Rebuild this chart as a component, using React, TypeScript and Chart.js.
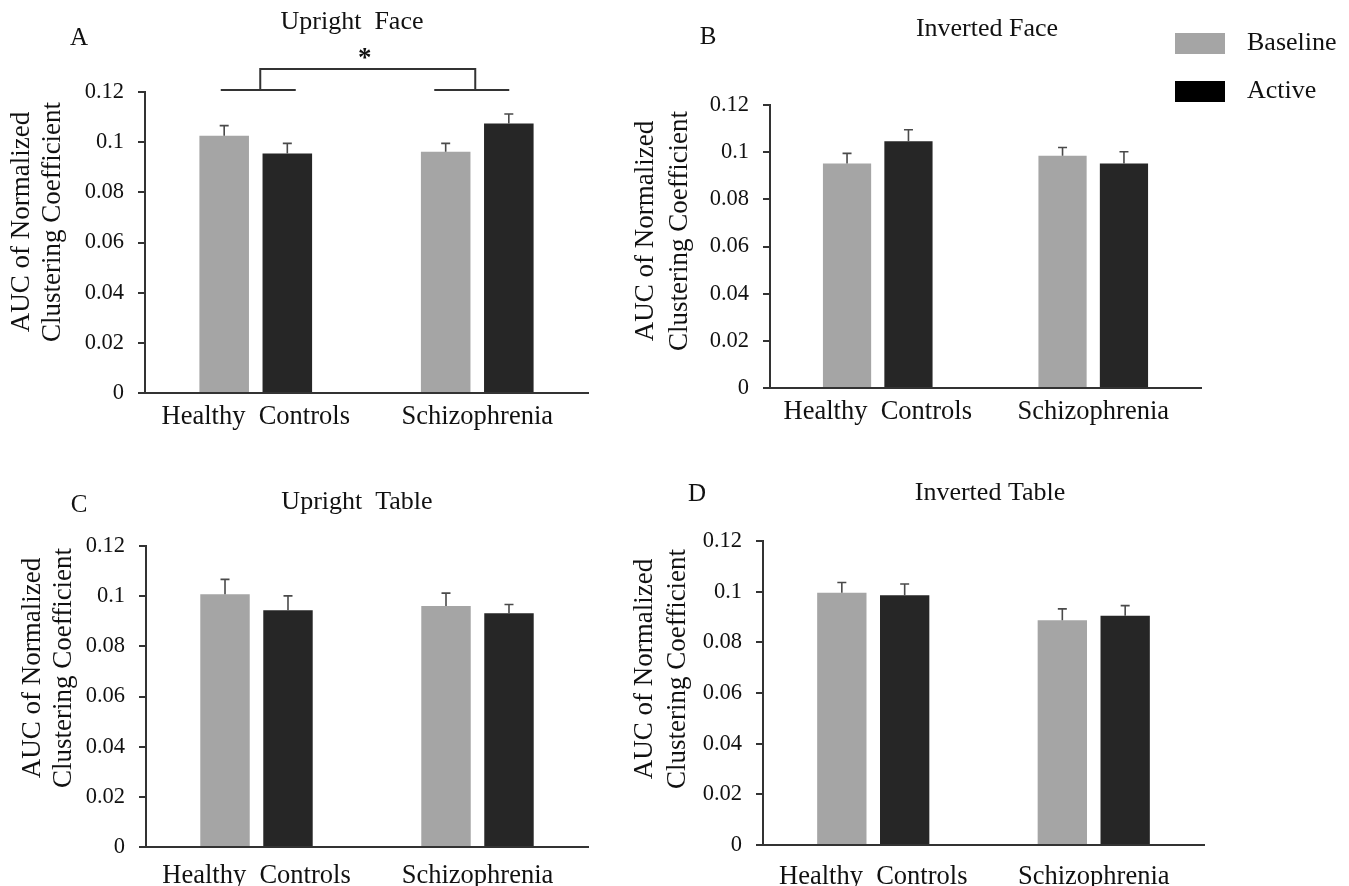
import React, { useEffect, useRef } from 'react';
import { Chart, registerables } from 'chart.js';

Chart.register(...registerables);

// ---------- data ----------
const categories = ['Healthy  Controls', 'Schizophrenia'];
const seriesNames = ['Baseline', 'Active'];
const yTickLabels = ['0', '0.02', '0.04', '0.06', '0.08', '0.1', '0.12'];
const yAxisTitle = ['AUC of Normalized', 'Clustering Coefficient'];
const panelTitles = ['Upright  Face', 'Inverted Face', 'Upright  Table', 'Inverted Table'];
const panelLetters = ['A', 'B', 'C', 'D'];

const uprightFaceBaseline = [0.1026, 0.0962];
const uprightFaceBaselineErr = [0.004, 0.0033];
const uprightFaceActive = [0.0955, 0.1074];
const uprightFaceActiveErr = [0.004, 0.0038];

const invertedFaceBaseline = [0.0952, 0.0985];
const invertedFaceBaselineErr = [0.0043, 0.0035];
const invertedFaceActive = [0.1046, 0.0952];
const invertedFaceActiveErr = [0.0049, 0.005];

const uprightTableBaseline = [0.1008, 0.0961];
const uprightTableBaselineErr = [0.0059, 0.0051];
const uprightTableActive = [0.0944, 0.0932];
const uprightTableActiveErr = [0.0057, 0.0035];

const invertedTableBaseline = [0.0996, 0.0887];
const invertedTableBaselineErr = [0.004, 0.0045];
const invertedTableActive = [0.0986, 0.0905];
const invertedTableActiveErr = [0.0044, 0.004];

// significance bracket (Upright Face): levels in data units
const bracketLow = 0.1208;
const bracketHigh = 0.1292;
const starLevel = 0.1350;

// ---------- styles ----------
const FONT = "'Liberation Serif', 'Times New Roman', serif";
const BASE_COLOR = '#a5a5a5';
const ACTIVE_COLOR = '#262626';
const LEGEND_COLORS = ['#a5a5a5', '#000000'];
const AXIS_COLOR = '#333333';
const TEXT_COLOR = '#111111';

type Spec = {
  x: number; y: number; w: number; h: number;
  area: { l: number; t: number; r: number; b: number };
  letterPos: [number, number];
  titlePos: [number, number];
  ytitleX: [number, number];
  ytitleY: number;
  labelPad: number;
  idx: number;
  baseline: number[]; baselineErr: number[];
  active: number[]; activeErr: number[];
  bracket?: boolean; legend?: boolean;
};

const XAXIS_H = 48;

const specs: Spec[] = [
  {
    idx: 0, x: 0, y: 0, w: 600, h: 440,
    area: { l: 145, t: 92, r: 588, b: 393 },
    letterPos: [79, 38], titlePos: [352, 22], ytitleX: [22, 53], ytitleY: 222, labelPad: 8,
    baseline: uprightFaceBaseline, baselineErr: uprightFaceBaselineErr,
    active: uprightFaceActive, activeErr: uprightFaceActiveErr, bracket: true,
  },
  {
    idx: 1, x: 600, y: 0, w: 749, h: 440,
    area: { l: 770, t: 105, r: 1201, b: 388 },
    letterPos: [708, 37], titlePos: [987, 29], ytitleX: [646, 680], ytitleY: 231, labelPad: 8,
    baseline: invertedFaceBaseline, baselineErr: invertedFaceBaselineErr,
    active: invertedFaceActive, activeErr: invertedFaceActiveErr, legend: true,
  },
  {
    idx: 2, x: 0, y: 440, w: 600, h: 446,
    area: { l: 146, t: 546, r: 588, b: 847 },
    letterPos: [79, 505], titlePos: [357, 502], ytitleX: [33, 64], ytitleY: 668, labelPad: 13,
    baseline: uprightTableBaseline, baselineErr: uprightTableBaselineErr,
    active: uprightTableActive, activeErr: uprightTableActiveErr,
  },
  {
    idx: 3, x: 600, y: 440, w: 749, h: 446,
    area: { l: 763, t: 541, r: 1204, b: 845 },
    letterPos: [697, 494], titlePos: [990, 493], ytitleX: [645, 678], ytitleY: 669, labelPad: 16,
    baseline: invertedTableBaseline, baselineErr: invertedTableBaselineErr,
    active: invertedTableActive, activeErr: invertedTableActiveErr,
  },
];

function Panel({ spec }: { spec: Spec }) {
  const ref = useRef<HTMLCanvasElement | null>(null);

  useEffect(() => {
    if (!ref.current) return;
    const s = spec;
    const errs = [s.baselineErr, s.activeErr];
    const ox = s.x;
    const oy = s.y;

    const overlay = {
      id: 'overlay' + s.idx,
      afterDatasetsDraw(chart: any) {
        const ctx = chart.ctx;
        const yScale = chart.scales.y;
        ctx.save();
        ctx.strokeStyle = '#4a4a4a';
        ctx.lineWidth = 1.6;
        chart.data.datasets.forEach((ds: any, di: number) => {
          const meta = chart.getDatasetMeta(di);
          meta.data.forEach((bar: any, i: number) => {
            const top = yScale.getPixelForValue(ds.data[i] + errs[di][i]);
            ctx.beginPath();
            ctx.moveTo(bar.x, bar.y);
            ctx.lineTo(bar.x, top);
            ctx.moveTo(bar.x - 4.5, top);
            ctx.lineTo(bar.x + 4.5, top);
            ctx.stroke();
          });
        });
        ctx.restore();
      },
      afterDraw(chart: any) {
        const ctx = chart.ctx;
        ctx.save();
        ctx.fillStyle = TEXT_COLOR;
        ctx.textAlign = 'center';
        ctx.textBaseline = 'middle';
        // panel letter
        ctx.font = `25px ${FONT}`;
        ctx.fillText(panelLetters[s.idx], s.letterPos[0] - ox, s.letterPos[1] - oy);
        // title
        ctx.font = `26px ${FONT}`;
        ctx.fillText(panelTitles[s.idx], s.titlePos[0] - ox, s.titlePos[1] - oy);
        // y-axis title (two lines, rotated)
        ctx.font = `27px ${FONT}`;
        yAxisTitle.forEach((line, li) => {
          ctx.save();
          ctx.translate(s.ytitleX[li] - ox, s.ytitleY - oy);
          ctx.rotate(-Math.PI / 2);
          ctx.textAlign = 'center';
          ctx.textBaseline = 'middle';
          ctx.fillText(line, 0, 0);
          ctx.restore();
        });

        if (s.bracket) {
          const xs = chart.scales.x;
          const ys = chart.scales.y;
          const c0 = xs.getPixelForValue(0);
          const c1 = xs.getPixelForValue(1);
          const yl = ys.getPixelForValue(bracketLow);
          const yh = ys.getPixelForValue(bracketHigh);
          ctx.strokeStyle = AXIS_COLOR;
          ctx.lineWidth = 2;
          ctx.beginPath();
          ctx.moveTo(c0 - 35, yl); ctx.lineTo(c0 + 40, yl);
          ctx.moveTo(c0 + 4.5, yl); ctx.lineTo(c0 + 4.5, yh);
          ctx.lineTo(c1 - 2, yh); ctx.lineTo(c1 - 2, yl);
          ctx.moveTo(c1 - 43, yl); ctx.lineTo(c1 + 32, yl);
          ctx.stroke();
          ctx.font = `bold 27px ${FONT}`;
          ctx.textAlign = 'center';
          ctx.textBaseline = 'alphabetic';
          const ys2 = ys.getPixelForValue(starLevel);
          ctx.fillText('*', (c0 + 4.5 + c1 - 2) / 2 - 3, ys2 + 12);
        }

        if (s.legend) {
          const boxes = [[1175, 33], [1175, 81]];
          ctx.font = `26px ${FONT}`;
          ctx.textAlign = 'left';
          ctx.textBaseline = 'middle';
          seriesNames.forEach((name, i) => {
            ctx.fillStyle = LEGEND_COLORS[i];
            ctx.fillRect(boxes[i][0] - ox, boxes[i][1] - oy, 50, 21);
            ctx.fillStyle = TEXT_COLOR;
            ctx.fillText(name, 1247 - ox, boxes[i][1] + 10 - oy);
          });
        }
        ctx.restore();
      },
    };

    const chart = new Chart(ref.current, {
      type: 'bar',
      data: {
        labels: categories,
        datasets: [
          { label: seriesNames[0], data: s.baseline, backgroundColor: BASE_COLOR, borderWidth: 0 },
          { label: seriesNames[1], data: s.active, backgroundColor: ACTIVE_COLOR, borderWidth: 0 },
        ],
      },
      options: {
        responsive: false,
        maintainAspectRatio: false,
        animation: false,
        events: [],
        categoryPercentage: 0.57,
        barPercentage: 0.785,
        layout: {
          padding: {
            left: 0,
            top: s.area.t - s.y,
            right: s.x + s.w - s.area.r,
            bottom: s.y + s.h - s.area.b - XAXIS_H,
          },
        },
        plugins: {
          legend: { display: false },
          tooltip: { enabled: false },
          title: { display: false },
        },
        scales: {
          x: {
            type: 'category',
            offset: true,
            grid: { display: true, drawOnChartArea: false, drawTicks: false, tickLength: 0 },
            border: { display: true, color: AXIS_COLOR, width: 2 },
            ticks: {
              color: TEXT_COLOR,
              font: { family: FONT, size: 26.5 },
              padding: s.labelPad,
              maxRotation: 0,
              autoSkip: false,
            },
            afterFit(scale: any) { scale.height = XAXIS_H; },
          },
          y: {
            type: 'linear',
            min: 0,
            max: 0.12,
            ticks: {
              stepSize: 0.02,
              color: TEXT_COLOR,
              font: { family: FONT, size: 22.5 },
              padding: 14,
              callback: (v: any) => yTickLabels[Math.round(Number(v) / 0.02)],
            },
            grid: { display: true, drawOnChartArea: false, drawTicks: true, tickLength: 7, color: AXIS_COLOR, lineWidth: 2 },
            border: { display: true, color: AXIS_COLOR, width: 2 },
            afterFit(scale: any) { scale.width = s.area.l - s.x; },
          },
        },
      },
      plugins: [overlay],
    } as any);

    return () => chart.destroy();
  }, [spec]);

  return (
    <canvas
      ref={ref}
      width={spec.w}
      height={spec.h}
      style={{ position: 'absolute', left: spec.x, top: spec.y, width: spec.w, height: spec.h }}
    />
  );
}

export default function App() {
  return (
    <div style={{ position: 'absolute', left: 0, top: 0, width: 1349, height: 886, background: '#fff' }}>
      {specs.map((s) => (
        <Panel key={s.idx} spec={s} />
      ))}
    </div>
  );
}
